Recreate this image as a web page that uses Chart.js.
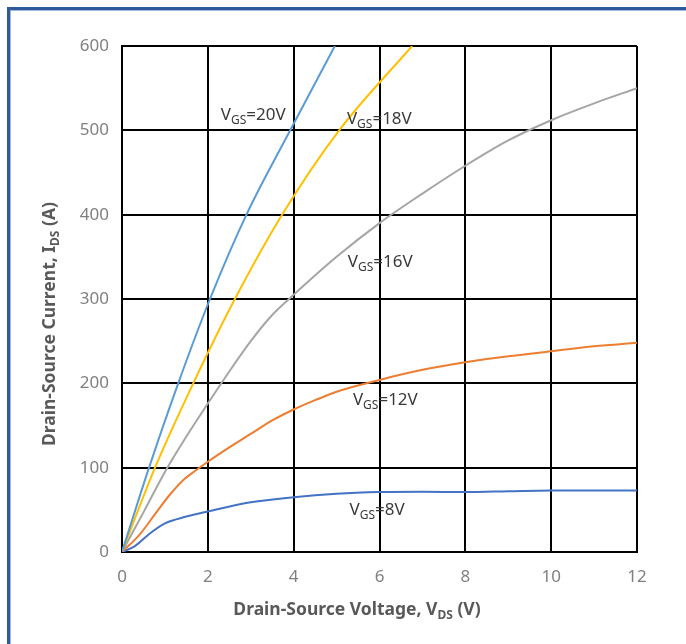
<!DOCTYPE html>
<html>
<head>
<meta charset="utf-8">
<title>Output characteristics</title>
<script src="https://cdn.jsdelivr.net/npm/chart.js@4.4.1/dist/chart.umd.min.js"></script>
<style>
  html, body { margin: 0; padding: 0; background: #fff; }
  #wrap { position: relative; width: 686px; height: 644px; }
</style>
</head>
<body>
<div id="wrap"><canvas id="chart-ids" width="686" height="644"></canvas></div>
<script>
// ============================================
// DATA
// ============================================

const X_TICKS = [0, 2, 4, 6, 8, 10, 12];
const Y_TICKS = [0, 100, 200, 300, 400, 500, 600];

const VDS_20V = [0, 0.63, 1.31, 2.05, 2.9, 3.92, 4.96];
const IDS_20V = [0, 100, 200, 300, 400, 500, 600];

const VDS_18V = [0, 0.77, 1.66, 2.63, 3.73, 5.06, 6.76];
const IDS_18V = [0, 100, 200, 300, 400, 500, 600];

const VDS_16V = [0, 0.5, 1, 1.5, 2, 2.5, 3, 3.5, 4, 5, 6, 7, 8, 9, 10, 11, 12];
const IDS_16V = [0, 47, 95, 137, 176, 214, 250, 281, 305, 350, 390, 425, 458, 488, 512, 532, 550];

const VDS_12V = [0, 0.4, 0.8, 1.1, 1.4, 1.7, 2, 2.5, 3, 3.5, 4, 4.5, 5, 6, 7, 8, 9, 10, 11, 12];
const IDS_12V = [0, 20, 47, 67, 84, 96, 107, 124, 140, 156, 169, 180, 190, 204, 216, 225, 232, 238, 244, 248];

const VDS_8V = [0, 0.3, 0.65, 1, 1.5, 2, 3, 4, 5, 6, 7, 8, 9, 10, 11, 12];
const IDS_8V = [0, 7, 22, 34, 42, 48, 59, 65, 69, 71, 71.5, 71, 72, 73, 73, 73];

// curve captions, anchored in data units (left edge, baseline)
const CURVE_LABELS = [
  { text: '=20V', x: 2.30, y: 512 },
  { text: '=18V', x: 5.24, y: 508 },
  { text: '=16V', x: 5.26, y: 338 },
  { text: '=12V', x: 5.38, y: 174 },
  { text: '=8V',  x: 5.30, y: 44 },
];

// ============================================
// HELPERS
// ============================================

function toPoints(xs, ys) {
  return xs.map((x, i) => ({ x: x, y: ys[i] }));
}

function curve(label, xs, ys, color) {
  return {
    label: label,
    data: toPoints(xs, ys),
    showLine: true,
    borderColor: color,
    backgroundColor: color,
    borderWidth: 2,
    pointRadius: 0,
    cubicInterpolationMode: 'monotone',
  };
}

// draw "main" + subscript + "rest" starting at x (left), baseline y
function subText(ctx, x, y, main, sub, rest, size, weight, color) {
  const subSize = Math.round(size * 0.68);
  ctx.fillStyle = color;
  ctx.textBaseline = 'alphabetic';
  ctx.textAlign = 'left';
  ctx.font = `${weight} ${size}px "Noto Sans"`;
  ctx.fillText(main, x, y);
  let cx = x + ctx.measureText(main).width;
  ctx.font = `${weight} ${subSize}px "Noto Sans"`;
  ctx.fillText(sub, cx, y + 4);
  cx += ctx.measureText(sub).width;
  ctx.font = `${weight} ${size}px "Noto Sans"`;
  ctx.fillText(rest, cx, y);
}

function subTextWidth(ctx, main, sub, rest, size, weight) {
  const subSize = Math.round(size * 0.68);
  ctx.font = `${weight} ${size}px "Noto Sans"`;
  let w = ctx.measureText(main).width + ctx.measureText(rest).width;
  ctx.font = `${weight} ${subSize}px "Noto Sans"`;
  return w + ctx.measureText(sub).width;
}

// ============================================
// PLUGINS
// ============================================

const framePlugin = {
  id: 'frame',
  beforeDraw(chart) {
    const ctx = chart.ctx;
    ctx.save();
    ctx.fillStyle = '#2F5A9A';
    ctx.fillRect(7, 7, 686 - 7, 3);
    ctx.fillRect(7, 7, 3, 644 - 7);
    ctx.fillStyle = '#9DB9E0';
    ctx.fillRect(10, 10, 686 - 10, 1);
    ctx.fillRect(10, 10, 1, 644 - 10);
    ctx.restore();
  }
};

const textPlugin = {
  id: 'texts',
  afterDraw(chart) {
    const ctx = chart.ctx;
    const xs = chart.scales.x;
    const ys = chart.scales.y;
    ctx.save();

    // curve captions
    CURVE_LABELS.forEach(l => {
      subText(ctx, xs.getPixelForValue(l.x), ys.getPixelForValue(l.y),
        'V', 'GS', l.text, 17, 'normal', '#3A3A3A');
    });

    // x axis title
    const xw = subTextWidth(ctx, 'Drain-Source Voltage, V', 'DS', ' (V)', 17.5, 'bold');
    subText(ctx, 357 - xw / 2, 615, 'Drain-Source Voltage, V', 'DS', ' (V)', 17.5, 'bold', '#595959');

    // y axis title (rotated)
    ctx.translate(55, 324);
    ctx.rotate(-Math.PI / 2);
    const yw = subTextWidth(ctx, 'Drain-Source Current, I', 'DS', ' (A)', 17.5, 'bold');
    subText(ctx, -yw / 2, 0, 'Drain-Source Current, I', 'DS', ' (A)', 17.5, 'bold', '#595959');

    ctx.restore();
  }
};

// ============================================
// CHART
// ============================================

function renderChart() {
  const canvas = document.getElementById('chart-ids');
  const tickFont = { family: '"Noto Sans"', size: 17 };

  new Chart(canvas.getContext('2d'), {
    type: 'scatter',
    data: {
      datasets: [
        curve('VGS=20V', VDS_20V, IDS_20V, '#5B9BD5'),
        curve('VGS=18V', VDS_18V, IDS_18V, '#FFC000'),
        curve('VGS=16V', VDS_16V, IDS_16V, '#A5A5A5'),
        curve('VGS=12V', VDS_12V, IDS_12V, '#ED7D31'),
        curve('VGS=8V', VDS_8V, IDS_8V, '#4472C4'),
      ]
    },
    options: {
      responsive: false,
      animation: false,
      devicePixelRatio: 1,
      layout: { padding: { top: 46, right: 49, left: 0, bottom: 0 } },
      scales: {
        x: {
          type: 'linear',
          min: 0, max: 12,
          afterBuildTicks: s => { s.ticks = X_TICKS.map(v => ({ value: v })); },
          afterFit: s => { s.height = 92; },
          grid: { color: '#000', lineWidth: 2, drawTicks: false },
          border: { color: '#000', width: 2 },
          ticks: { color: '#808080', font: tickFont, padding: 15, maxRotation: 0 }
        },
        y: {
          type: 'linear',
          min: 0, max: 600,
          afterBuildTicks: s => { s.ticks = Y_TICKS.map(v => ({ value: v })); },
          afterFit: s => { s.width = 122; },
          grid: { color: '#000', lineWidth: 2, drawTicks: false },
          border: { color: '#000', width: 2 },
          ticks: { color: '#808080', font: tickFont, padding: 13 }
        }
      },
      plugins: {
        legend: { display: false },
        tooltip: { enabled: false }
      }
    },
    plugins: [framePlugin, textPlugin]
  });
}

renderChart();
</script>
</body>
</html>
